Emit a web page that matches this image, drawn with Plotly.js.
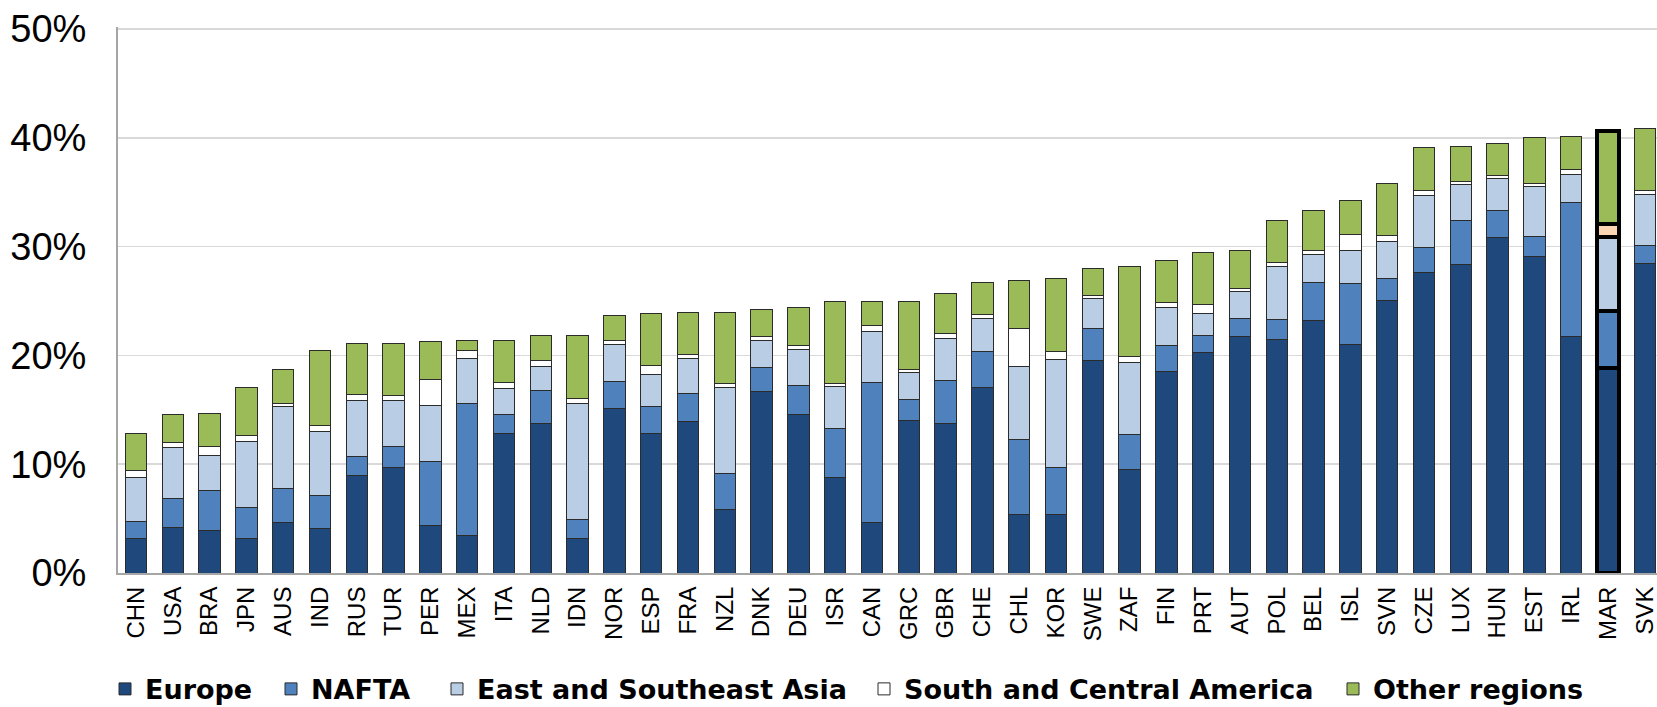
<!DOCTYPE html>
<html>
<head>
<meta charset="utf-8">
<script src="https://cdn.plot.ly/plotly-3.0.1.min.js"></script>
<style>html,body{margin:0;padding:0;background:#fff;}#chart{width:1657px;height:707px;}</style>
</head>
<body>
<div id="chart"></div>
<script>
var countries = ["CHN","USA","BRA","JPN","AUS","IND","RUS","TUR","PER","MEX","ITA","NLD","IDN","NOR","ESP","FRA","NZL","DNK","DEU","ISR","CAN","GRC","GBR","CHE","CHL","KOR","SWE","ZAF","FIN","PRT","AUT","POL","BEL","ISL","SVN","CZE","LUX","HUN","EST","IRL","MAR","SVK"];
var europe = [3.13,4.18,3.87,3.16,4.64,4.11,8.97,9.67,4.40,3.48,12.80,13.78,3.13,15.08,12.83,13.92,5.87,16.70,14.59,8.76,4.64,14.03,13.78,17.05,5.41,5.34,19.51,9.56,18.57,20.25,21.78,21.48,23.19,21.05,25.06,27.67,28.40,30.85,29.14,21.78,18.87,28.46];
var nafta = [1.58,2.64,3.69,2.89,3.17,3.03,1.75,2.00,5.87,12.06,1.76,2.99,1.83,2.50,2.47,2.61,3.27,2.18,2.64,4.50,12.91,1.93,3.91,3.31,6.90,4.40,2.93,3.22,2.32,1.62,1.63,1.87,3.53,5.54,2.02,2.26,4.01,2.48,1.83,12.26,5.24,1.63];
var asia = [4.05,4.68,3.23,6.08,7.49,5.87,5.17,4.15,5.10,4.19,2.39,2.22,10.58,3.41,2.95,3.23,7.91,2.53,3.34,3.86,4.64,2.46,3.90,3.02,6.64,9.85,2.84,6.55,3.53,2.00,2.51,4.87,2.57,3.07,3.40,4.78,3.28,2.94,4.54,2.63,6.77,4.71];
var southCentral = [0.63,0.53,0.88,0.49,0.31,0.53,0.50,0.46,2.39,0.73,0.53,0.52,0.53,0.35,0.81,0.35,0.35,0.36,0.35,0.28,0.56,0.29,0.46,0.35,3.52,0.77,0.25,0.61,0.46,0.85,0.24,0.33,0.40,1.47,0.59,0.46,0.28,0.25,0.34,0.43,1.20,0.34];
var other = [3.44,2.53,2.96,4.47,3.10,6.96,4.67,4.78,3.51,0.95,3.93,2.36,5.80,2.36,4.78,3.80,6.58,2.42,3.48,7.53,2.25,6.29,3.65,2.96,4.39,6.68,2.46,8.22,3.83,4.75,3.47,3.83,3.67,3.09,4.78,3.95,3.21,2.97,4.16,3.00,8.55,5.70];
var seriesNames = ["Europe","NAFTA","East and Southeast Asia","South and Central America","Other regions"];
var yTickVals = [0, 10, 20, 30, 40, 50];
var yTickText = ["0%", "10%", "20%", "30%", "40%", "50%"];
var highlight = "MAR";

var colors = ["#1f497d","#4f81bd","#b9cde5","#ffffff","#9bbb59"];
var highlightSCA = "#fcd5b4";
var data = [europe, nafta, asia, southCentral, other];
var legendIds = ["legend","legend2","legend3","legend4","legend5"];
var legendX = [105, 271, 437, 864, 1333];

var lineW = countries.map(function(c){return c===highlight?4:1;});
var lineC = countries.map(function(c){return c===highlight?"#000000":"#2b2b2b";});

var traces = data.map(function(vals, i){
  var col = colors[i];
  if (i === 3) {
    col = countries.map(function(c){return c===highlight?highlightSCA:colors[3];});
  }
  return {
    type: "bar",
    name: seriesNames[i],
    legend: legendIds[i],
    x: countries,
    y: vals,
    marker: {color: col, line: {color: lineC, width: lineW}},
    hoverinfo: "none"
  };
});

var layout = {
  width: 1657, height: 707,
  barmode: "stack",
  bargap: 0.42,
  margin: {l: 118, r: 0, t: 27, b: 134},
  paper_bgcolor: "#ffffff",
  plot_bgcolor: "#ffffff",
  showlegend: true,
  xaxis: {
    type: "category",
    range: [-0.49, 41.33],
    tickangle: -90,
    tickfont: {family: "Liberation Sans, Arial", size: 24, color: "#000000"},
    showline: true, linecolor: "#a6a6a6", linewidth: 2,
    showgrid: false,
    ticks: "",
    ticklabelstandoff: 2,
    fixedrange: true
  },
  yaxis: {
    range: [0, 50.2],
    tickmode: "array",
    tickvals: yTickVals,
    ticktext: yTickText,
    tickfont: {family: "Liberation Sans, Arial", size: 38, color: "#000000"},
    showline: true, linecolor: "#a6a6a6", linewidth: 2,
    showgrid: true, gridcolor: "#d9d9d9", gridwidth: 1.5,
    zeroline: false,
    ticks: "",
    ticklabelstandoff: 22,
    fixedrange: true
  }
};
legendIds.forEach(function(id, i){
  layout[id] = {
    orientation: "h",
    xref: "container", yref: "container",
    x: legendX[i] / 1657, y: 0.025, xanchor: "left", yanchor: "middle",
    font: {family: "DejaVu Sans", size: 27, color: "#000000", weight: "bold"},
    bgcolor: "rgba(0,0,0,0)"
  };
});

Plotly.newPlot("chart", traces, layout, {displayModeBar: false, staticPlot: true});
</script>
</body>
</html>
